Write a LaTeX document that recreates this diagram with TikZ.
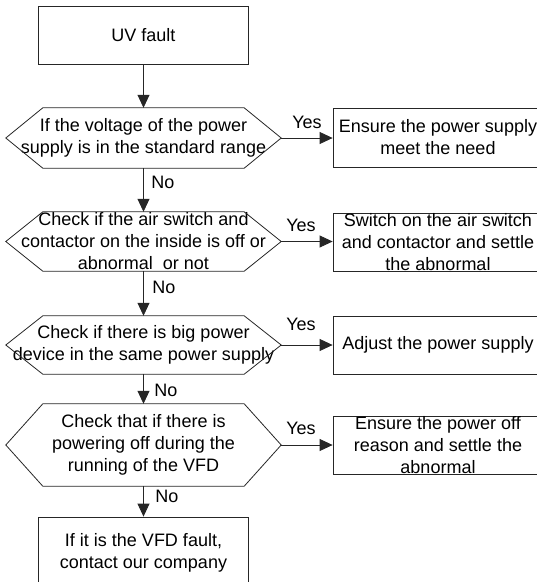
\documentclass[tikz,border=0pt]{standalone}
\usepackage{fontspec}
\setmainfont{Liberation Sans}
\usetikzlibrary{arrows.meta}
\tikzset{
  lin/.style={draw=black!85, line width=0.8pt},
  arr/.style={lin, -{Triangle[length=13pt,width=12pt]}},
  txt/.style={font=\fontsize{18}{22}\selectfont, align=center, inner sep=0pt},
  boxnode/.style={lin, minimum width=210pt, inner sep=0pt, align=center, font=\fontsize{18}{22}\selectfont},
  hexnode/.style={minimum width=275pt, inner sep=0pt, align=center, font=\fontsize{18}{22}\selectfont},
  lbl/.style={font=\fontsize{18}{22}\selectfont, inner sep=0pt}
}
\newcommand{\hexoutline}[1]{%
  \draw[lin] (#1.west) -- ([xshift=37pt]#1.north west) -- ([xshift=-37pt]#1.north east)
    -- (#1.east) -- ([xshift=-37pt]#1.south east) -- ([xshift=37pt]#1.south west) -- cycle;}
\begin{document}
\begin{tikzpicture}[x=1pt,y=-1pt]
\useasboundingbox (0,0) rectangle (537,582);
\begin{scope}
\clip (0,0) rectangle (537,582);
% top box
\node[boxnode, minimum height=58pt] (b0) at (143.5,35) {UV fault};
% hexagons
\node[hexnode, minimum height=60pt] (d1) at (143.5,138) {If the voltage of the power\\supply is in the standard range};
\node[hexnode, minimum height=59pt] (d2) at (143.5,241.5) {Check if the air switch and\\contactor on the inside is off or\\abnormal\ \ or not};
\node[hexnode, minimum height=58pt] (d3) at (143.5,345) {Check if there is big power\\device in the same power supply};
\node[hexnode, minimum height=82pt] (d4) at (143.5,445) {Check that if there is\\powering off during the\\running of the VFD};
\hexoutline{d1}\hexoutline{d2}\hexoutline{d3}\hexoutline{d4}
% bottom box
\node[boxnode, minimum height=90pt, text depth=0pt] (b5) at (143.5,562) {};
\node[txt] (t5) at (143.5,553) {If it is the VFD fault,\\contact our company};
% right boxes
\node[boxnode, minimum height=59pt] (r1) at (438,137.5) {Ensure the power supply\\meet the need};
\node[boxnode, minimum height=58pt] (r2) at (438,242) {Switch on the air switch\\and contactor and settle\\the abnormal};
\node[boxnode, minimum height=58pt] (r3) at (438,345) {Adjust the power supply};
\node[boxnode, minimum height=58pt] (r4) at (438,445) {Ensure the power off\\reason and settle the\\abnormal};
\end{scope}
% vertical connectors
\draw[arr] (b0.south) -- (d1.north);
\draw[arr] (d1.south) -- (d2.north);
\draw[arr] (d2.south) -- (d3.north);
\draw[arr] (d3.south) -- (d4.north);
\draw[arr] (d4.south) -- (b5.north);
% yes connectors
\draw[arr] (d1.east) -- (d1.east -| r1.west);
\draw[arr] (d2.east) -- (d2.east -| r2.west);
\draw[arr] (d3.east) -- (d3.east -| r3.west);
\draw[arr] (d4.east) -- (d4.east -| r4.west);
% labels
\node[lbl] (y1) at (307,122) {Yes};
\node[lbl] (y2) at (301,225) {Yes};
\node[lbl] (y3) at (301,324) {Yes};
\node[lbl] (y4) at (301,428) {Yes};
\node[lbl] (n1) at (163,182) {No};
\node[lbl] (n2) at (164,287) {No};
\node[lbl] (n3) at (166,390) {No};
\node[lbl] (n4) at (167,496) {No};
\end{tikzpicture}
\end{document}
